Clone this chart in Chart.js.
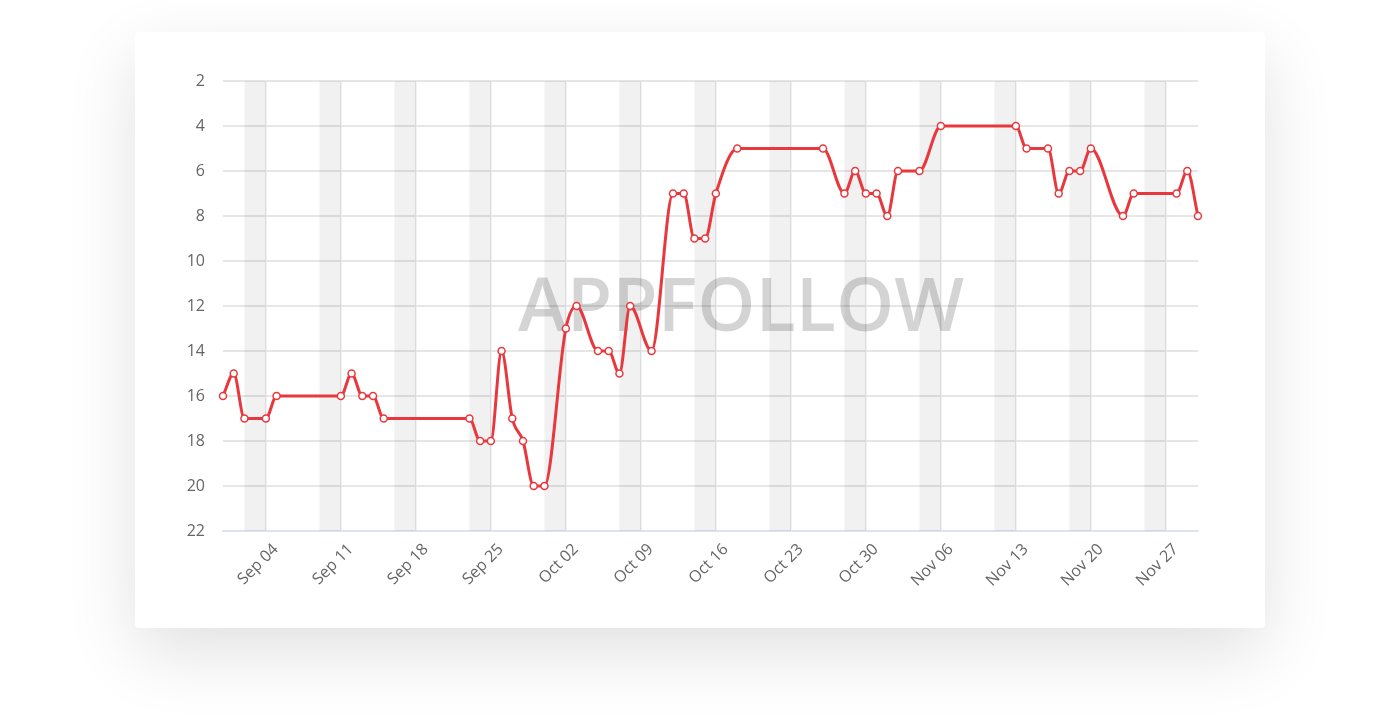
<!DOCTYPE html>
<html>
<head>
<meta charset="utf-8">
<title>Rank history</title>
<script src="https://cdn.jsdelivr.net/npm/chart.js@4/dist/chart.umd.min.js"></script>
<style>
  html, body { margin: 0; padding: 0; background: #fff; }
  body { width: 1400px; height: 728px; position: relative; overflow: hidden; font-family: "Open Sans", sans-serif; }
  .card {
    position: absolute; left: 135px; top: 32px; width: 1130px; height: 596px;
    background: #fff; border-radius: 4px;
    box-shadow: 0 24px 70px rgba(0,0,0,0.12);
  }
  .card canvas { display: block; }
</style>
</head>
<body>
<div class="card"><canvas id="rankChart" width="1130" height="596"></canvas></div>

<script>
// Data: day index counted from Aug 31 (2017), rank on that day
const days  = [0, 1, 2, 4, 5, 11, 12, 13, 14, 15, 23, 24, 25, 26, 27, 28, 29, 30, 32, 33,
               35, 36, 37, 38, 40, 42, 43, 44, 45, 46, 48, 56, 58, 59, 60, 61, 62, 63, 65, 67,
               74, 75, 77, 78, 79, 80, 81, 84, 85, 89, 90, 91];
const ranks = [16, 15, 17, 17, 16, 16, 15, 16, 16, 17, 17, 18, 18, 14, 17, 18, 20, 20, 13, 12,
               14, 14, 15, 12, 14, 7, 7, 9, 9, 7, 5, 5, 7, 6, 7, 7, 8, 6, 6, 4,
               4, 5, 5, 7, 6, 6, 5, 8, 7, 7, 6, 8];

// X ticks (Mondays) and their labels
const tickDays   = [4, 11, 18, 25, 32, 39, 46, 53, 60, 67, 74, 81, 88];
const tickLabels = ['Sep 04', 'Sep 11', 'Sep 18', 'Sep 25', 'Oct 02', 'Oct 09', 'Oct 16',
                    'Oct 23', 'Oct 30', 'Nov 06', 'Nov 13', 'Nov 20', 'Nov 27'];

// Y ticks
const rankTicks = [2, 4, 6, 8, 10, 12, 14, 16, 18, 20, 22];

const RED = '#e8383d';

// Weekend bands (Sat + Sun before every Monday tick) + watermark
const backdrop = {
  id: 'backdrop',
  beforeDatasetsDraw(chart){
    const { ctx, chartArea: a, scales: { x } } = chart;
    ctx.save();
    ctx.fillStyle = 'rgba(0,0,0,0.055)';
    tickDays.forEach(d => {
      const x0 = x.getPixelForValue(d - 2);
      const x1 = x.getPixelForValue(d);
      ctx.fillRect(x0, a.top, x1 - x0, a.bottom - a.top);
    });
    // watermark
    ctx.fillStyle = 'rgba(0,0,0,0.17)';
    ctx.font = '600 74px "Open Sans"';
    ctx.textAlign = 'center';
    ctx.textBaseline = 'middle';
    ctx.fillText('APPFOLLOW', 606, 278);
    ctx.restore();
  }
};

new Chart(document.getElementById('rankChart'), {
  type: 'line',
  data: {
    datasets: [{
      data: days.map((d, i) => ({ x: d, y: ranks[i] })),
      borderColor: RED,
      borderWidth: 3,
      pointRadius: 3.5,
      pointBorderWidth: 1.5,
      pointBackgroundColor: '#fff',
      pointBorderColor: RED,
      cubicInterpolationMode: 'monotone',
      clip: false
    }]
  },
  options: {
    responsive: false,
    animation: false,
    layout: { padding: { top: 49, right: 67, left: 0, bottom: 0 } },
    plugins: { legend: { display: false }, tooltip: { enabled: false } },
    scales: {
      x: {
        type: 'linear',
        min: 0,
        max: 91,
        afterBuildTicks: s => { s.ticks = tickDays.map(v => ({ value: v })); },
        afterFit: s => { s.height = 97; },
        grid: { color: '#e6e6e6', lineWidth: 1.5, drawTicks: false },
        border: { color: '#dfe2f0', width: 2 },
        ticks: {
          minRotation: 45,
          maxRotation: 45,
          padding: 9,
          labelOffset: 10,
          color: '#666',
          font: { family: 'Open Sans', size: 16 },
          callback: v => tickLabels[tickDays.indexOf(v)]
        }
      },
      y: {
        reverse: true,
        min: 2,
        max: 22,
        afterBuildTicks: s => { s.ticks = rankTicks.map(v => ({ value: v })); },
        afterFit: s => { s.width = 88; },
        grid: { color: '#e6e6e6', lineWidth: 2, drawTicks: false },
        border: { display: false },
        ticks: {
          padding: 18,
          color: '#666',
          font: { family: 'Open Sans', size: 16 }
        }
      }
    }
  },
  plugins: [backdrop]
});
</script>
</body>
</html>
